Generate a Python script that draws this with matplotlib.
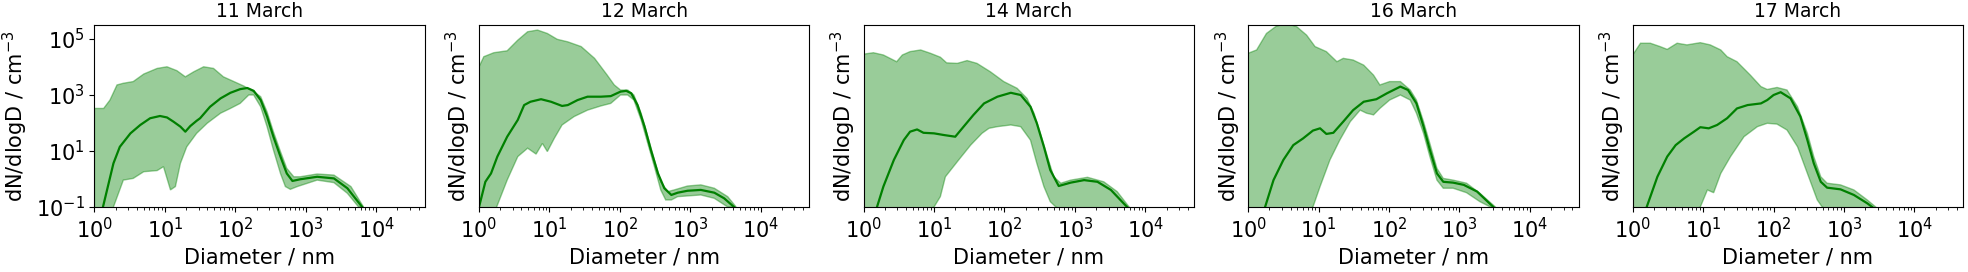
import matplotlib
matplotlib.use("Agg")
import matplotlib.pyplot as plt
import numpy as np

# --- size distributions read per day: median and min/max envelope ---
days = ["11 March", "12 March", "14 March", "16 March", "17 March"]

# 11 March
d11_med = [1.32, 1.86, 2.29, 3.24, 4.47, 6.17, 8.51, 10.7, 13.2, 16.6, 19.5, 22.9, 28.2, 31.6, 43.7, 61.7,
           85.1, 117, 148, 182, 229, 282, 347, 437, 537, 646, 832, 1450, 2510, 3890, 6310]
n11_med = [0.1, 3.63, 14.1, 42.7, 85.1, 148, 178, 158, 112, 74.1, 49.0, 77.6, 120, 148, 380, 759,
           1200, 1620, 1780, 1410, 661, 170, 32.4, 6.31, 1.58, 0.851, 0.977, 1.20, 1.05, 0.468, 0.1]
d11_hi = [1, 1.35, 1.66, 2.09, 2.57, 3.55, 5.01, 7.76, 10.7, 14.8, 19.5, 25.7, 35.5, 49.0, 67.6, 95.5,
          132, 182, 229, 282, 347, 437, 537, 676, 832, 1450, 2510, 4370, 6610]
n11_hi = [331, 331, 661, 2290, 2630, 3020, 5620, 8910, 10200, 7410, 4470, 6760, 10200, 8910, 4470, 3020,
          2090, 1320, 871, 251, 49.0, 9.55, 2.40, 1.20, 1.20, 1.51, 1.38, 0.537, 0.1]
d11_lo = [1, 1.86, 2.57, 3.55, 5.01, 7.76, 9.55, 12.0, 14.1, 16.6, 20.4, 28.2, 39.8, 61.7, 85.1, 117,
          155, 182, 229, 282, 347, 437, 513, 603, 759, 1450, 2510, 3890, 5620]
n11_lo = [0.01, 0.1, 0.912, 1.05, 1.82, 2.0, 2.75, 0.407, 0.537, 3.63, 14.1, 42.7, 97.7, 224, 331, 501,
          1000, 1000, 380, 74.1, 11.0, 1.58, 0.537, 0.427, 0.537, 0.912, 0.741, 0.309, 0.1]

# 12 March
d12_med = [1.0, 1.23, 1.48, 1.82, 2.51, 3.55, 4.37, 5.37, 7.59, 10.5, 15.1, 18.2, 25.1, 34.7, 53.7, 74.1,
           102, 123, 145, 178, 224, 275, 347, 427, 537, 661, 912, 1410, 2190, 3020, 4170]
n12_med = [0.1, 0.794, 1.58, 6.31, 32.4, 129, 437, 575, 708, 575, 407, 437, 661, 871, 871, 912,
           1320, 1410, 1150, 437, 74.1, 11.0, 1.58, 0.468, 0.269, 0.324, 0.380, 0.407, 0.324, 0.204, 0.1]
d12_hi = [1, 1.17, 1.62, 2.51, 3.55, 4.90, 6.76, 9.33, 12.9, 18.2, 28.2, 43.7, 66.1, 83.2, 102, 129,
          158, 200, 245, 309, 380, 479, 589, 912, 1410, 2190, 3390, 4470]
n12_hi = [10200, 23400, 32400, 38000, 91200, 182000, 209000, 158000, 97700, 79400, 53700, 20400, 5130,
          2290, 1510, 1510, 1000, 224, 37.2, 4.79, 0.794, 0.355, 0.407, 0.562, 0.617, 0.468, 0.234, 0.1]
d12_lo = [1, 1.78, 2.51, 3.55, 4.90, 6.46, 7.94, 9.33, 11.7, 15.1, 22.4, 34.7, 53.7, 74.1, 102, 129,
          158, 200, 245, 309, 380, 447, 537, 661, 1410, 2190, 3390]
n12_lo = [0.01, 0.1, 0.912, 6.31, 12.6, 7.76, 18.6, 9.55, 28.2, 85.1, 170, 288, 407, 501, 1000, 1000,
          661, 129, 21.4, 2.75, 0.407, 0.178, 0.178, 0.234, 0.269, 0.204, 0.1]

# 14 March
d14_med = [1.55, 1.91, 2.69, 3.72, 4.57, 5.75, 7.08, 10, 13.8, 20.0, 26.3, 36.3, 51.3, 79.4, 123, 170,
           234, 288, 363, 447, 589, 871, 1350, 2090, 3240, 5500]
n14_med = [0.1, 0.537, 4.79, 24.5, 49.0, 58.9, 44.7, 42.7, 37.2, 32.4, 74.1, 195, 501, 871, 1200, 1000,
           380, 97.7, 14.1, 2.09, 0.562, 0.741, 0.912, 0.794, 0.407, 0.1]
d14_hi = [1, 1.38, 1.91, 2.95, 3.55, 4.57, 6.46, 8.91, 12.3, 15.1, 21.4, 29.5, 40.7, 63.1, 97.7, 151,
          209, 263, 324, 407, 501, 631, 871, 1510, 2570, 3980, 5890]
n14_hi = [28800, 32400, 26900, 15500, 26900, 35500, 40700, 30900, 22400, 14100, 13500, 17000, 13500,
          6760, 3020, 1740, 759, 224, 42.7, 6.31, 1.20, 0.708, 0.912, 1.15, 0.794, 0.355, 0.1]
d14_lo = [1, 10, 12.3, 14.5, 22.4, 33.1, 47.9, 60.3, 79.4, 123, 170, 234, 288, 363, 447, 537, 5890]
n14_lo = [0.01, 0.1, 0.234, 1.20, 4.79, 16.2, 42.7, 64.6, 74.1, 85.1, 74.1, 24.5, 3.63, 0.537, 0.155,
          0.1, 0.01]

# 16 March
d16_med = [1.74, 2.29, 3.16, 4.37, 6.03, 8.32, 10.5, 12.9, 16.2, 22.4, 30.9, 43.7, 66.1, 93.3, 145, 186,
           245, 309, 380, 479, 589, 813, 1150, 1780, 3020]
n16_med = [0.1, 0.912, 4.79, 16.2, 28.2, 53.7, 64.6, 40.7, 44.7, 112, 288, 575, 708, 1150, 2000, 1510,
           501, 74.1, 11.0, 1.58, 0.794, 0.741, 0.617, 0.355, 0.1]
d16_hi = [1, 1.32, 1.82, 2.51, 3.55, 4.90, 6.76, 8.91, 12.9, 18.2, 22.4, 30.9, 43.7, 60.3, 74.1, 102,
          145, 200, 245, 309, 380, 479, 589, 813, 1260, 1950, 3240]
n16_hi = [30900, 40700, 158000, 288000, 355000, 275000, 138000, 53700, 35500, 15500, 20400, 17800,
          11700, 5130, 2290, 3020, 3020, 1510, 661, 112, 18.6, 2.40, 1.05, 0.912, 0.708, 0.309, 0.1]
d16_lo = [1, 8.32, 10.5, 14.5, 20.0, 28.2, 38.9, 47.9, 60.3, 74.1, 102, 145, 200, 245, 309, 380,
          479, 589, 813, 1260, 1950, 2750, 3240]
n16_lo = [0.01, 0.1, 0.537, 4.79, 24.5, 112, 288, 224, 195, 331, 661, 1000, 661, 224, 42.7, 6.31,
          0.912, 0.468, 0.468, 0.324, 0.155, 0.1, 0.01]

# 17 March
d17_med = [1.58, 2.24, 3.09, 4.07, 5.37, 7.41, 9.12, 12.0, 15.8, 21.9, 30.2, 42.7, 66.1, 81.3, 100, 126,
           174, 240, 302, 372, 468, 575, 891, 1380, 2140, 2510]
n17_med = [0.1, 1.20, 6.31, 16.2, 28.2, 49.0, 70.8, 64.6, 85.1, 148, 331, 437, 501, 661, 1000, 1260,
           759, 170, 24.5, 3.63, 0.794, 0.490, 0.427, 0.269, 0.135, 0.1]
d17_hi = [1, 1.29, 1.78, 2.45, 3.09, 4.27, 5.89, 9.12, 12.6, 17.8, 21.9, 30.2, 46.8, 66.1, 81.3, 112,
          155, 219, 302, 372, 468, 575, 891, 1380, 2140, 2820]
n17_hi = [26900, 70800, 70800, 53700, 42700, 70800, 61700, 74100, 61700, 40700, 23400, 15500, 5130,
          2000, 1580, 1860, 1510, 380, 42.7, 6.31, 1.20, 0.708, 0.617, 0.407, 0.178, 0.1]
d17_lo = [1, 9.12, 11.5, 14.1, 17.8, 24.5, 38.0, 58.9, 81.3, 112, 155, 219, 302, 417, 490, 2820]
n17_lo = [0.01, 0.1, 0.407, 0.324, 1.58, 6.31, 32.4, 74.1, 97.7, 91.2, 56.2, 14.1, 1.58, 0.178, 0.1,
          0.01]

medians = [(d11_med, n11_med), (d12_med, n12_med), (d14_med, n14_med), (d16_med, n16_med), (d17_med, n17_med)]
uppers = [(d11_hi, n11_hi), (d12_hi, n12_hi), (d14_hi, n14_hi), (d16_hi, n16_hi), (d17_hi, n17_hi)]
lowers = [(d11_lo, n11_lo), (d12_lo, n12_lo), (d14_lo, n14_lo), (d16_lo, n16_lo), (d17_lo, n17_lo)]

fig, axes = plt.subplots(1, 5, figsize=(19.68, 2.72), dpi=100)
plt.subplots_adjust(left=0.048, right=0.9975, top=0.908, bottom=0.239, wspace=0.164)

for i, ax in enumerate(axes):
    dm, nm = medians[i]
    du, nu = uppers[i]
    dl, nl = lowers[i]

    # envelope polygon: upper edge left->right, lower edge right->left
    xs = np.concatenate([du, dl[::-1]])
    ys = np.concatenate([nu, nl[::-1]])
    ax.fill(xs, ys, color="green", alpha=0.4, linewidth=1)
    ax.plot(dm, nm, color="green", linewidth=1.6)

    ax.set_xscale("log")
    ax.set_yscale("log")
    ax.set_xlim(1, 10 ** 4.69)
    ax.set_ylim(0.1, 10 ** 5.5)
    ax.set_xticks([1, 10, 100, 1000, 10000])
    ax.yaxis.set_major_locator(matplotlib.ticker.FixedLocator([0.1, 10, 1000, 100000]))
    ax.yaxis.set_minor_locator(matplotlib.ticker.NullLocator())
    ax.tick_params(labelsize=15)
    ax.set_title(days[i], fontsize=13.5)
    ax.set_xlabel("Diameter / nm", fontsize=15)
    ax.set_ylabel("dN/dlogD / cm$^{-3}$", fontsize=15)
    if i > 0:
        ax.tick_params(axis="y", left=False, labelleft=False)

plt.savefig("out.png", dpi=100)
plt.close()
